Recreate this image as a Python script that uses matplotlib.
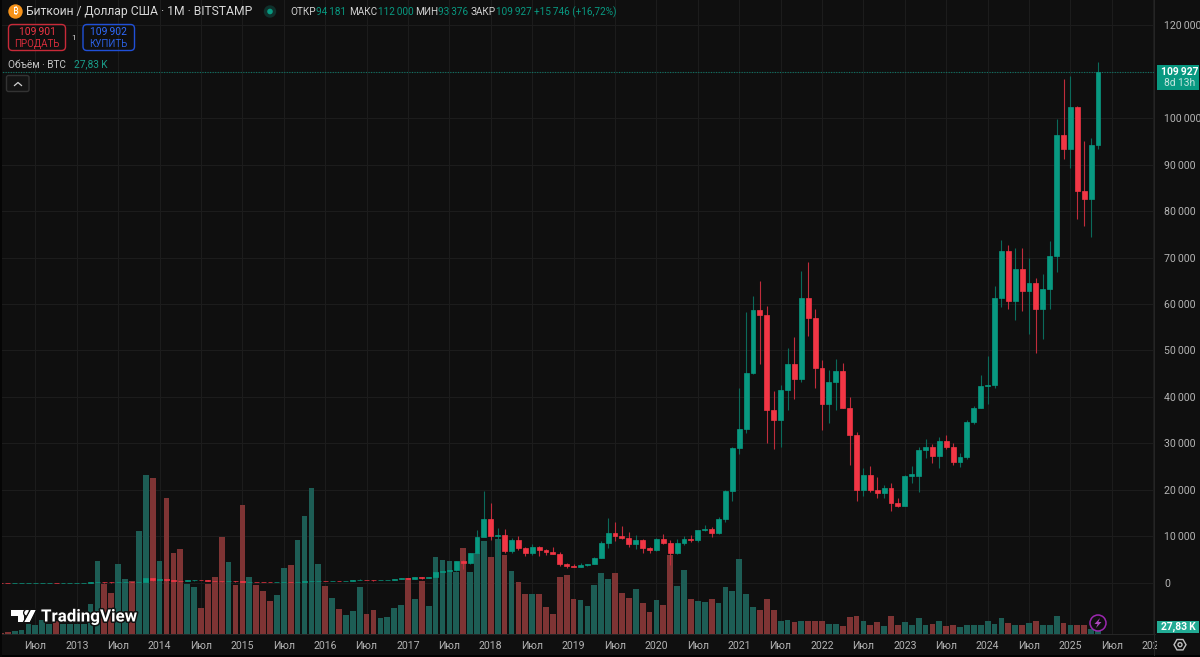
import matplotlib
matplotlib.use("Agg")
import matplotlib.pyplot as plt
import matplotlib.patheffects as pe
from matplotlib.patches import FancyBboxPatch, Circle, Rectangle, Polygon
from matplotlib.transforms import Bbox

FONT = ["Roboto", "DejaVu Sans"]
plt.rcParams["font.family"] = FONT

# Monthly candles, Feb 2012 .. May 2025 (month index 0 = Jan 2013)
first_month = -11
opens = [5.5,5.0,5.0,5.0,5.2,6.7,9.4,10,12.4,11.2,12.5,
 13,20,33,93,140,129,97,106,140,125,198,1130,
 730,800,550,450,445,625,640,585,480,388,338,378,
 320,217,254,244,236,230,263,284,230,236,314,377,
 430,369,436,416,448,530,670,622,575,610,700,745,
 965,920,1190,1080,1350,2300,2480,2870,4730,4340,6440,9950,
 13800,10100,10300,6900,9250,7490,6390,7730,7010,6610,6300,4020,
 3690,3410,3810,4100,5260,8560,10800,10080,9600,8300,9150,7540,
 7190,9350,8530,6410,8620,9450,9140,11350,11650,10780,13800,19700,
 28950,33100,45200,58800,57700,37300,35000,41500,47100,43800,61300,56900,
 46200,38500,43200,45500,37700,31800,19900,23300,20000,19400,20500,17100,
 16500,23100,23100,28500,29200,27200,30500,29200,26000,27000,34600,37700,
 42300,42600,61200,71300,60600,67500,62700,64600,58900,63300,70300,96400,
 93400,102400,84300,82500,94181]
closes = [5.0,4.9,5.0,5.2,6.7,9.4,10,12.4,11.2,12.5,13.5,
 20,33,93,140,129,97,106,140,125,198,1130,730,
 800,550,450,445,625,640,585,480,388,338,378,320,
 217,254,244,236,230,263,284,230,236,314,377,430,
 369,436,416,448,530,670,622,575,610,700,745,965,
 920,1190,1080,1350,2300,2480,2870,4730,4340,6440,9950,13800,
 10100,10300,6900,9250,7490,6390,7730,7010,6610,6300,4020,3690,
 3410,3810,4100,5260,8560,10800,10080,9600,8300,9150,7540,7190,
 9350,8530,6410,8620,9450,9140,11350,11650,10780,13800,19700,28950,
 33100,45200,58800,57700,37300,35000,41500,47100,43800,61300,56900,46200,
 38500,43200,45500,37700,31800,19900,23300,20000,19400,20500,17100,16500,
 23100,23500,28500,29200,27200,30500,29200,26000,27000,34600,37700,42300,
 42600,61200,71300,60600,67500,62700,64600,58900,63300,70300,96400,93400,
 102400,84300,82500,94181,109927]
highs = [6,5.5,5.5,5.6,7,9.8,15,12.6,12.8,12.6,13.7,
 21,35,95,260,140,130,111,140,146,200,1163,1150,
 1000,800,700,490,630,680,640,600,495,410,455,380,
 320,265,300,260,245,268,315,285,245,335,500,470,
 460,450,440,470,550,780,705,625,610,735,760,980,
 1150,1270,1320,1350,2770,3000,2920,4800,5000,6450,11400,19670,
 17200,11780,11700,9750,10000,7770,8450,7870,7400,7670,6580,4200,
 4080,4200,4150,5640,9100,13880,13200,12300,10900,10350,9500,7750,
 9590,10500,9200,9500,10080,10400,11450,12500,12070,14100,19900,29300,
 42000,58300,61800,64900,59600,41300,42500,50500,52900,67000,69000,59000,
 47900,45800,48200,47400,40000,32400,24700,25200,22800,21000,21500,18300,
 23300,25250,29200,31000,29800,31400,31800,30200,28000,35000,38000,44700,
 48900,63900,73800,72800,72000,72000,70000,65500,66500,73600,99800,108300,
 109000,102700,95000,95800,112000]
lows = [4.6,4.6,4.8,4.9,5.1,6.5,7,9.9,10.5,10.8,12.3,
 13,19,32,50,80,80,65,95,110,103,195,400,
 730,400,430,340,420,520,565,450,365,290,320,300,
 152,212,235,215,225,220,260,200,225,235,310,350,
 355,365,370,415,440,530,600,475,570,600,690,740,
 750,900,900,1060,1340,2100,1760,2650,2950,4110,5500,10900,
 9200,5900,6450,6430,7000,5750,6070,5880,6100,6200,3650,3150,
 3350,3380,3650,4100,5300,7440,9100,9350,7700,7300,6500,6430,
 6850,8400,3850,6150,8100,8900,8900,11100,9800,10450,13200,17600,
 27800,32300,45000,47000,30000,28800,29300,37300,39600,43300,53200,42000,
 32900,34300,37200,37600,25400,17600,18800,19600,18200,18200,15500,16300,
 16500,21400,19600,26900,25800,24800,28900,25300,24900,26600,34100,37600,
 38500,41900,59300,59000,56500,58400,53500,49500,52500,58900,66800,91200,
 89200,78200,76700,74500,93376]
# Monthly volume, thousands of BTC
volume = [4.5,10,13,18,44,39,63,44,59,44,44,
 44,44,137,329,224,185,314,249,239,464,714,702,
 329,611,365,383,224,213,117,224,257,438,324,221,
 581,257,221,192,149,174,296,311,422,531,657,314,
 216,164,113,86,104,212,89,110,71,78,117,131,
 251,158,239,125,347,335,329,278,386,278,365,417,
 347,428,356,284,234,182,182,179,122,90,257,267,
 158,153,125,221,275,249,275,185,161,203,138,99,
 153,129,356,216,288,158,149,146,158,138,213,192,
 339,182,122,107,158,110,60,63,53,59,57,57,
 57,45,45,36,78,81,57,39,53,35,81,42,
 53,42,71,42,45,57,35,39,32,42,39,42,
 60,45,71,50,39,39,50,60,42,39,81,50,
 42,39,42,24,27.83]
price_ticks = [0,10000,20000,30000,40000,50000,60000,70000,80000,90000,100000,120000]
grid_levels = list(range(0, 130000, 10000))
date_ticks = list(range(-6, 157, 6))
date_labels = ["Июл" if m % 12 else str(2013 + m // 12) for m in date_ticks]
last_price = 109927

W, H = 1200, 657
BG = "#0f0f0f"; GRID = "#1c1c1c"; TXT = "#b4b4b4"
UP = "#089981"; DOWN = "#f23645"
UPW = "#0b6a5a"; DOWNW = "#c02c3b"
UPV = "#1d5d55"; DOWNV = "#7e3434"
XLIM = (-11.13, 156.26)
YLIM = (-10987, 125400)

fig = plt.figure(figsize=(W/100, H/100), dpi=100, facecolor=BG)
pane = [0, (H-634)/H, 1155/W, 634/H]

# Back axes: grid, price labels and date labels
ax = fig.add_axes(pane, facecolor=BG)
ax.set_xlim(*XLIM)
ax.set_ylim(*YLIM)
ax.yaxis.tick_right()
ax.set_yticks(price_ticks)
ax.set_yticklabels([f"{v:,}".replace(",", "\u2009") for v in price_ticks], fontsize=7.6, color=TXT)
ax.tick_params(axis="y", length=0, pad=6.5)
ax.hlines(grid_levels, XLIM[0], XLIM[1], color=GRID, lw=0.8, zorder=0)
ax.set_xticks(date_ticks)
ax.set_xticklabels(date_labels, fontsize=7.6, color=TXT)
ax.tick_params(axis="x", length=0, pad=5)
ax.grid(axis="x", color=GRID, lw=0.8, zorder=0)
clip = Bbox([[0, 0], [1156.5, H]])
for lab in ax.get_xticklabels():
    lab.set_clip_box(clip); lab.set_clip_on(True)
for s in ax.spines.values():
    s.set_visible(False)
ax.spines["bottom"].set_visible(True); ax.spines["bottom"].set_color("#262626"); ax.spines["bottom"].set_linewidth(0.7)

# Volume axes
axv = fig.add_axes(pane, facecolor="none")
axv.set_xlim(*XLIM)
axv.set_ylim(0, 634*4.5)
axv.axis("off")
months = list(range(first_month, first_month + len(opens)))
vcol = [UPV if c >= o else DOWNV for o, c in zip(opens, closes)]
axv.bar(months, volume, width=0.84, color=vcol, linewidth=0, zorder=2)

# Candle axes
axc = fig.add_axes(pane, facecolor="none")
axc.set_xlim(*XLIM)
axc.set_ylim(*YLIM)
axc.axis("off")
wcol = [UPW if c >= o else DOWNW for o, c in zip(opens, closes)]
bcol = [UP if c >= o else DOWN for o, c in zip(opens, closes)]
axc.axhline(last_price, color="#0c7464", lw=0.8, ls=(0, (1, 1.3)), zorder=2.5)
axc.vlines(months, lows, highs, colors=wcol, lw=0.8, zorder=3)
axc.bar(months, [abs(c-o) for o, c in zip(opens, closes)],
        bottom=[min(o, c) for o, c in zip(opens, closes)], width=0.72,
        color=bcol, edgecolor=bcol, linewidth=0.5, zorder=4)

# Interface overlay in pixel coordinates
ui = fig.add_axes([0, 0, 1, 1], facecolor="none")
ui.set_xlim(0, W); ui.set_ylim(H, 0); ui.axis("off")

def t(x, y, s, color=TXT, size=8, ha="left", weight="normal", **kw):
    return ui.text(x, y, s, color=color, fontsize=size, ha=ha, va="center", fontweight=weight, **kw)

def box(x0, y0, x1, y1, ec, fc="none", r=3, lw=1):
    ui.add_patch(FancyBboxPatch((x0, y0), x1-x0, y1-y0, boxstyle=f"round,pad=0,rounding_size={r}",
                                ec=ec, fc=fc, lw=lw))

ui.add_patch(Rectangle((0, 655), W, 2, fc="#000000", ec="none"))
ui.add_patch(Rectangle((0, 0), 1.5, H, fc="#050505", ec="none"))
ui.plot([1153.5, 1153.5], [0, 655], color="#262626", lw=0.7)

ui.add_patch(Circle((15.5, 11.5), 7.2, fc="#f7931a", ec="none"))
t(15.5, 11.5, "₿", "#ffffff", 7, ha="center",
  family=["Noto Sans", "Open Sans", "Lato", "Inter", "Liberation Sans", "DejaVu Sans"])
t(26.5, 12, "Биткоин / Доллар США · 1М · BITSTAMP", "#d8d8d8", 8.7)
ui.add_patch(Circle((270, 11.5), 6.2, fc="#10312c", ec="none"))
ui.add_patch(Circle((270, 11.5), 2.8, fc=UP, ec="none"))
G = "#089981"
t(290, 12, "ОТКР", "#d0d0d0", 7.2); t(316.5, 12, "94\u2009181", G, 7.2)
t(349, 12, "МАКС", "#d0d0d0", 7.2); t(377.5, 12, "112\u2009000", G, 7.2)
t(415.5, 12, "МИН", "#d0d0d0", 7.2); t(438, 12, "93\u2009376", G, 7.2)
t(470.5, 12, "ЗАКР", "#d0d0d0", 7.2); t(496, 12, "109\u2009927", G, 7.2)
t(534, 12, "+15\u2009746 (+16,72%)", G, 7.2)

box(8.5, 24.5, 65.5, 50.5, "#c92a39", r=4)
t(37, 32, "109\u2009901", DOWN, 7.4, ha="center")
t(37, 44, "ПРОДАТЬ", "#d62c3b", 7, ha="center")
t(74, 37.5, "1", "#d0d0d0", 6, ha="center")
box(83, 24.5, 134.5, 50.5, "#2050d8", r=4)
t(108.7, 32, "109\u2009902", "#2f6bff", 7.4, ha="center")
t(108.7, 44, "КУПИТЬ", "#2a5fe0", 7, ha="center")
t(8.5, 64.5, "Объём · BTC", "#c8c8c8", 7.2)
t(74.5, 64.5, "27,83\u2009K", "#1a9d8a", 7.4)
box(6.5, 75.5, 29, 91.5, "#333333", fc="#141414", r=2)
ui.plot([14.5, 18, 21.5], [85.5, 82.5, 85.5], color="#d0d0d0", lw=0.9)

# Current price tags
ui.add_patch(Rectangle((1157, 65), 42, 25, fc=UP, ec="none"))
t(1179.5, 72, "109\u2009927", "#ffffff", 7.4, ha="center", weight="bold")
t(1179.5, 83, "8d 13h", "#c5e6df", 7.4, ha="center")
ui.add_patch(Rectangle((1157, 621), 42, 12, fc="#22ab94", ec="none"))
t(1178, 627, "27,83\u2009K", "#ffffff", 7.4, ha="center", weight="bold")

# Settings hexagon
hx = [(1186, 644.7), (1183, 639.5), (1177, 639.5), (1174, 644.7), (1177, 649.9), (1183, 649.9)]
ui.add_patch(Polygon(hx, closed=True, fc="none", ec="#c0c0c0", lw=1))
ui.add_patch(Circle((1180, 644.7), 2, fc="none", ec="#c0c0c0", lw=1))

# Lightning badge
ui.add_patch(Circle((1098, 623), 8, fc="#0f0f0f", ec="#9c27b0", lw=1.1))
ui.add_patch(Polygon([(1100, 618), (1094.5, 624), (1097.6, 624), (1096, 628), (1101.5, 622), (1098.4, 622)],
                     closed=True, fc="#ab47bc", ec="none"))

# TradingView logo
halo = [pe.withStroke(linewidth=2.2, foreground="#111111")]
for p in (Polygon([(11, 610), (24, 610), (24, 622), (18, 622), (18, 616), (11, 616)], closed=True, fc="white", ec="none"),
          Circle((27.2, 612.8), 2.7, fc="white", ec="none"),
          Polygon([(31, 610), (35.5, 610), (29.5, 622), (24.5, 622)], closed=True, fc="white", ec="none")):
    p.set_path_effects(halo + [pe.Normal()])
    ui.add_patch(p)
t(41, 617, "TradingView", "#ffffff", 12.2, weight="bold", path_effects=halo)

fig.savefig("out.png", dpi=100, facecolor=BG)
